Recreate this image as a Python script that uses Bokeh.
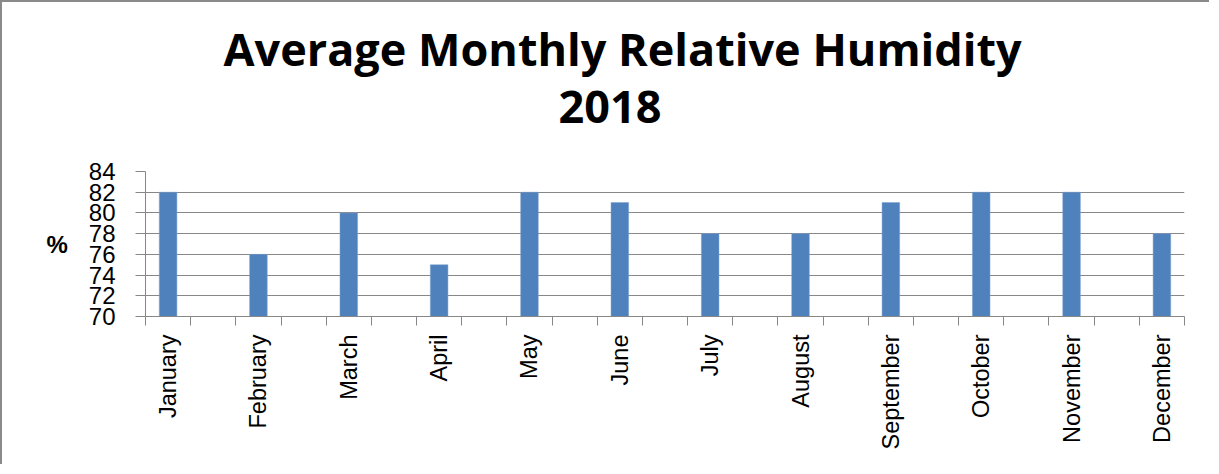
from bokeh.plotting import figure
from bokeh.models import Range1d, FixedTicker, Title
from bokeh.embed import file_html
from bokeh.resources import INLINE
from math import pi

months = ["January", "February", "March", "April", "May", "June", "July",
          "August", "September", "October", "November", "December"]
humidity = [82, 76, 80, 75, 82, 81, 78, 78, 81, 82, 82, 78]
y_ticks = [70, 72, 74, 76, 78, 80, 82, 84]
title_line1 = "Average Monthly Relative Humidity"
title_line2 = "2018"

GRAY = "#878787"
BLUE = "#4F81BD"

n_slots = 2 * len(months) - 1
xs = [2 * i + 0.5 for i in range(len(months))]

p = figure(width=1209, height=464, output_backend="svg", toolbar_location=None,
           x_range=Range1d(0, n_slots), y_range=Range1d(y_ticks[0], y_ticks[-1]),
           min_border_left=143, min_border_right=27, min_border_top=169,
           min_border_bottom=150)
p.styles = {"border-left": "2px solid #8a8a8a", "border-top": "2px solid #8a8a8a"}
p.outline_line_color = None
p.background_fill_color = "white"
p.border_fill_color = "white"

p.vbar(x=xs, top=humidity, bottom=y_ticks[0], width=0.39, fill_color=BLUE,
       line_color="#7FA3D0", line_width=0.5)

xa = p.xaxis[0]
p.xgrid.visible = False
xa.ticker = FixedTicker(ticks=xs, minor_ticks=list(range(0, n_slots + 1)))
xa.major_label_overrides = {x: m for x, m in zip(xs, months)}
xa.major_label_orientation = pi / 2
xa.major_tick_out = 0
xa.major_tick_in = 0
xa.minor_tick_out = 9
xa.minor_tick_in = 0
xa.minor_tick_line_color = GRAY
xa.axis_line_color = GRAY
xa.major_label_standoff = 9
xa.major_label_text_font = "Liberation Sans"
xa.major_label_text_font_size = "23.5px"
xa.major_label_text_color = "black"

ya = p.yaxis[0]
ya.ticker = FixedTicker(ticks=y_ticks)
ya.major_tick_out = 10
ya.major_tick_in = 0
ya.minor_tick_out = 0
ya.minor_tick_in = 0
ya.major_tick_line_color = GRAY
ya.axis_line_color = GRAY
ya.major_label_standoff = 20
ya.major_label_text_font = "Liberation Sans"
ya.major_label_text_font_size = "24px"
ya.major_label_text_color = "black"
ya.axis_label = "%"
ya.axis_label_orientation = "horizontal"
ya.axis_label_text_font = "Liberation Sans"
ya.axis_label_text_font_size = "24px"
ya.axis_label_text_font_style = "bold"
ya.axis_label_text_color = "black"
ya.axis_label_standoff = 18

p.ygrid.grid_line_color = GRAY
p.ygrid.grid_line_width = 1
p.ygrid.ticker = FixedTicker(ticks=y_ticks)

# outer title line
p.title.text = title_line1
p.title.align = "left"
p.title.offset = 78
p.title.standoff = 2
p.title.text_font = "Open Sans"
p.title.text_font_style = "bold"
p.title.text_font_size = "45px"
p.title.text_color = "black"

# white spacer between the plot area and the title block
p.add_layout(Title(text=".", text_color="white", text_font_size="10px", standoff=30), "above")
# inner title line
p.add_layout(Title(text=title_line2, align="left", offset=413, standoff=18,
                   text_font="Open Sans", text_font_style="bold",
                   text_font_size="45px", text_color="black"), "above")

open("out.html", "w").write(file_html(p, INLINE))
